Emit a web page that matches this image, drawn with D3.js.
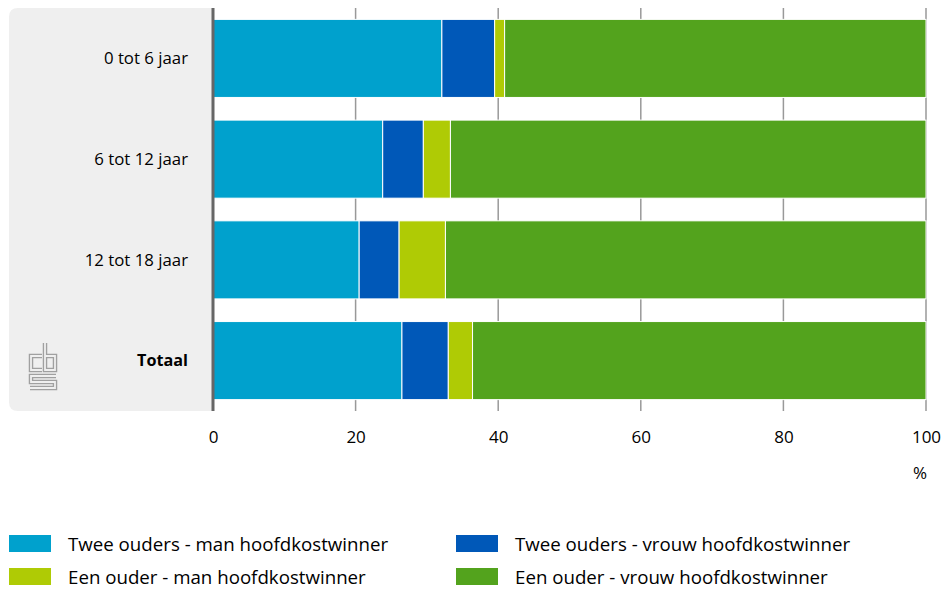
<!DOCTYPE html>
<html>
<head>
<meta charset="utf-8">
<script src="https://cdn.jsdelivr.net/npm/d3@7"></script>
<style>
  body { margin: 0; background: #fff; }
  svg { font-family: "Open Sans", sans-serif; }
</style>
</head>
<body>
<script>
// categories, top to bottom
var categories = ["0 tot 6 jaar", "6 tot 12 jaar", "12 tot 18 jaar", "Totaal"];
var seriesNames = [
  "Twee ouders - man hoofdkostwinner",
  "Twee ouders - vrouw hoofdkostwinner",
  "Een ouder - man hoofdkostwinner",
  "Een ouder - vrouw hoofdkostwinner"
];
var seriesColors = ["#00a1cd", "#0058b8", "#afcb05", "#53a31d"];
// values in %, one array per series, same order as categories
var tweeMan   = [32.1, 23.8, 20.5, 26.5];
var tweeVrouw = [7.4, 5.7, 5.6, 6.5];
var eenMan    = [1.4, 3.8, 6.5, 3.4];
var eenVrouw  = [59.1, 66.7, 67.4, 63.6];
var xTicks = [0, 20, 40, 60, 80, 100];

var seriesValues = [tweeMan, tweeVrouw, eenMan, eenVrouw];

var width = 945, height = 589;
var margin = {top: 8, right: 19, bottom: 178, left: 213};

var svg = d3.select("body").append("svg")
    .attr("width", width)
    .attr("height", height);

var x = d3.scaleLinear().domain([0, 100]).range([margin.left, width - margin.right]);
var y = d3.scaleBand().domain(categories)
    .range([margin.top, height - margin.bottom])
    .paddingInner(0.225).paddingOuter(0.113);

// grey label panel
svg.append("path")
    .attr("fill", "#efefef")
    .attr("d", function() {
      var x0 = 9, x1 = margin.left, y0 = margin.top, y1 = height - margin.bottom, r = 9;
      return "M" + (x0 + r) + "," + y0 + "H" + x1 + "V" + y1 + "H" + (x0 + r) +
        "Q" + x0 + "," + y1 + " " + x0 + "," + (y1 - r) + "V" + (y0 + r) +
        "Q" + x0 + "," + y0 + " " + (x0 + r) + "," + y0 + "Z";
    });

// grid lines
svg.selectAll("line.grid")
    .data(xTicks.slice(1))
    .enter().append("line")
    .attr("class", "grid")
    .attr("x1", function(d) { return x(d); })
    .attr("x2", function(d) { return x(d); })
    .attr("y1", margin.top)
    .attr("y2", height - margin.bottom)
    .attr("stroke", "#999")
    .attr("stroke-width", 1.5);

// stacked bars
var rows = categories.map(function(c, i) {
  var row = {cat: c};
  seriesNames.forEach(function(s, j) { row[s] = seriesValues[j][i]; });
  return row;
});
var stacked = d3.stack().keys(seriesNames)(rows);

svg.selectAll("g.series")
    .data(stacked)
    .enter().append("g")
    .attr("class", "series")
    .attr("fill", function(d, i) { return seriesColors[i]; })
  .selectAll("rect")
    .data(function(d) { return d; })
    .enter().append("rect")
    .attr("x", function(d) { return x(d[0]); })
    .attr("width", function(d) { return x(d[1]) - x(d[0]); })
    .attr("y", function(d) { return y(d.data.cat); })
    .attr("height", y.bandwidth())
    .attr("stroke", "#fff")
    .attr("stroke-width", 1);

// category labels
svg.selectAll("text.cat")
    .data(categories)
    .enter().append("text")
    .attr("class", "cat")
    .attr("x", margin.left - 25)
    .attr("y", function(d) { return y(d) + y.bandwidth() / 2; })
    .attr("dy", "0.35em")
    .attr("text-anchor", "end")
    .attr("font-size", function(d) { return d === "Totaal" ? 16.2 : 16.8; })
    .attr("font-weight", function(d) { return d === "Totaal" ? "bold" : "normal"; })
    .attr("fill", "#000")
    .text(function(d) { return d; });

// axis line
svg.append("line")
    .attr("x1", margin.left).attr("x2", margin.left)
    .attr("y1", margin.top).attr("y2", height - margin.bottom)
    .attr("stroke", "#666")
    .attr("stroke-width", 3);

// x axis
var xAxis = svg.append("g")
    .attr("transform", "translate(0," + (height - margin.bottom) + ")")
    .call(d3.axisBottom(x).tickValues(xTicks).tickSize(0).tickPadding(20));
xAxis.select(".domain").remove();
xAxis.selectAll("text")
    .attr("font-family", "'Open Sans', sans-serif")
    .attr("font-size", 17)
    .attr("fill", "#000");

svg.append("text")
    .attr("x", x(100) - 6)
    .attr("y", 479)
    .attr("text-anchor", "middle")
    .attr("font-size", 17)
    .text("%");

// cbs logo
var logo = svg.append("g").attr("fill", "none").attr("stroke-linejoin", "miter");
var logoPath = "M42,356H31V370H42 M45,343V370H55V356H45 M56,376H31V382H55V388H30";
logo.append("path").attr("d", logoPath).attr("stroke", "#a0a0a0").attr("stroke-width", 4.5);
logo.append("path").attr("d", logoPath).attr("stroke", "#efefef").attr("stroke-width", 1.8);

// legend
var legend = svg.selectAll("g.legend")
    .data(seriesNames)
    .enter().append("g")
    .attr("class", "legend")
    .attr("transform", function(d, i) {
      return "translate(" + (i % 2 === 0 ? 9 : 456) + "," + (i < 2 ? 535 : 568) + ")";
    });
legend.append("rect")
    .attr("width", 42)
    .attr("height", 17)
    .attr("fill", function(d, i) { return seriesColors[i]; });
legend.append("text")
    .attr("x", 59)
    .attr("y", 9)
    .attr("dy", "0.35em")
    .attr("font-size", 18.7)
    .attr("fill", "#000")
    .text(function(d) { return d; });
</script>
</body>
</html>
